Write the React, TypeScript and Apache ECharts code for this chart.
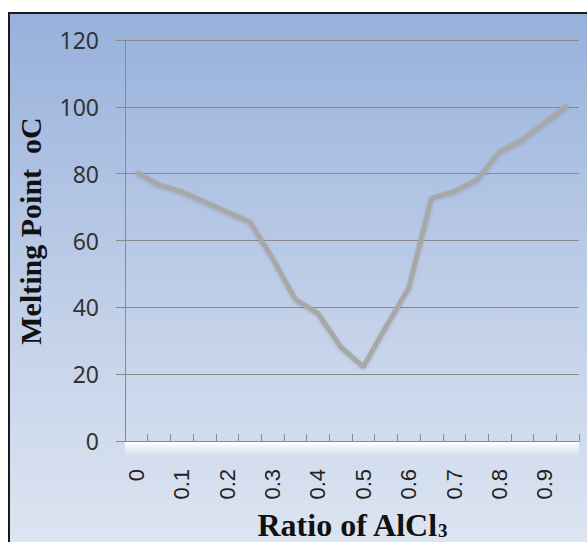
import React, { useEffect, useRef } from "react";
import * as echarts from "echarts";

const categories = ["0","0.05","0.1","0.15","0.2","0.25","0.3","0.35","0.4","0.45","0.5","0.55","0.6","0.65","0.7","0.75","0.8","0.85","0.9","0.95"];
const meltingPoints = [80.4,76.6,74.6,71.6,68.5,65.6,54.7,42.4,38.2,28.2,22.2,34.2,45.8,72.6,74.6,78.1,86.6,90.1,95.3,100.5];
const yTicks = { min: 0, max: 120, interval: 20 };

export default function App() {
  const ref = useRef<HTMLDivElement>(null);
  useEffect(() => {
    document.body.style.margin = "0";
    const chart = echarts.init(ref.current!, undefined, { renderer: "svg" });
    chart.setOption({
      animation: false,
      backgroundColor: "#ffffff",
      graphic: [
        {
          type: "rect",
          z: -10,
          silent: true,
          shape: { x: 9, y: 13, width: 600, height: 560 },
          style: {
            fill: new echarts.graphic.LinearGradient(0, 0, 0, 1, [
              { offset: 0, color: "#97b1db" },
              { offset: 0.55, color: "#c3d1e9" },
              { offset: 1, color: "#e0e7f2" },
            ]),
            stroke: "#1a1a1a",
            lineWidth: 2,
          },
        },
        {
          type: "rect",
          z: -5,
          silent: true,
          shape: { x: 125, y: 442, width: 454, height: 14 },
          style: {
            fill: new echarts.graphic.LinearGradient(0, 0, 0, 1, [
              { offset: 0, color: "rgba(255,255,255,1)" },
              { offset: 1, color: "rgba(255,255,255,0)" },
            ]),
          },
        },
      ],
      grid: { left: 125, right: 8, top: 40, bottom: 101, containLabel: false, outerBoundsMode: "none" },
      xAxis: {
        type: "category",
        data: categories,
        boundaryGap: true,
        name: "{a|Ratio of AlCl}{s|3}",
        nameLocation: "middle",
        nameGap: 68,
        nameTextStyle: {
          rich: {
            a: { fontFamily: "Liberation Serif", fontWeight: "bold", fontSize: 32, color: "#111" },
            s: { fontFamily: "Liberation Serif", fontWeight: "bold", fontSize: 19, color: "#111", padding: [10, 0, 0, 0] },
          },
        },
        axisLine: { lineStyle: { color: "#8a8a8a", width: 1 } },
        axisTick: { show: true, inside: true, length: 7, interval: 0, lineStyle: { color: "#8a8a8a" } },
        axisLabel: {
          interval: 1,
          rotate: 90,
          margin: 28,
          fontFamily: "Liberation Sans",
          fontSize: 22,
          color: "#222",
        },
        splitLine: { show: false },
      },
      yAxis: {
        type: "value",
        min: yTicks.min,
        max: yTicks.max,
        interval: yTicks.interval,
        name: "Melting Point  oC",
        nameLocation: "middle",
        nameGap: 80,
        nameRotate: 90,
        nameTextStyle: { fontFamily: "Liberation Serif", fontWeight: "bold", fontSize: 30, color: "#111", padding: [0, 0, 0, 19] },
        axisLine: { show: true, lineStyle: { color: "#8a8a8a", width: 1 } },
        axisTick: { show: true, length: 9, lineStyle: { color: "#8a8a8a" } },
        axisLabel: { margin: 26, fontFamily: "Noto Sans", fontSize: 23, color: "#333" },
        splitLine: { show: true, lineStyle: { color: "#8a8a8a", width: 1 } },
      },
      series: [
        {
          type: "line",
          data: meltingPoints,
          symbol: "none",
          lineStyle: {
            color: "#a8a8a8",
            width: 5,
            shadowColor: "rgba(0,0,0,0.15)",
            shadowBlur: 3,
            shadowOffsetY: 1,
          },
        },
      ],
    });
    return () => chart.dispose();
  }, []);
  return <div ref={ref} style={{ width: 587, height: 542 }} />;
}
